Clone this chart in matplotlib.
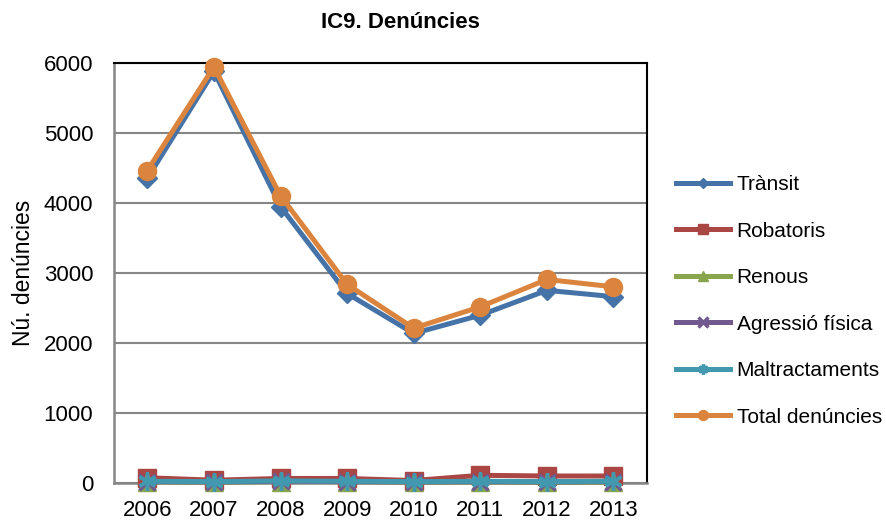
"""IC9. Denuncies line chart."""
import matplotlib
matplotlib.use('Agg')
from matplotlib import pyplot as plt
from matplotlib import rc

rc('font', family=['Liberation Sans', 'DejaVu Sans'])

years = ['2006', '2007', '2008', '2009', '2010', '2011', '2012', '2013']
transit = [4350, 5875, 3945, 2705, 2135, 2395, 2750, 2660]
robatoris = [75, 40, 65, 65, 35, 110, 100, 100]
renous = [15, 10, 20, 20, 10, 15, 10, 10]
agressio = [20, 15, 25, 20, 15, 20, 15, 20]
maltractaments = [25, 20, 30, 25, 20, 25, 20, 25]
total = [4460, 5940, 4100, 2835, 2210, 2515, 2905, 2800]

labels = ['Trànsit', 'Robatoris', 'Renous', 'Agressió física',
          'Maltractaments', 'Total denúncies']
colors = ['#4572A7', '#AA4643', '#89A54E', '#71588F', '#4198AF', '#DB843D']
markers = ['D', 's', '^', 'x', (6, 2, 0), 'o']
sizes = [10, 13, 13, 12, 13, 13]

fig = plt.figure(figsize=(8.86, 5.22), dpi=100)
ax = fig.add_axes([0.1287, 0.0747, 0.6013, 0.8053])

x = range(len(years))
series = [transit, robatoris, renous, agressio, maltractaments, total]
for vals, lab, col, mk, ms in zip(series, labels, colors, markers, sizes):
    ax.plot(x, vals, color=col, lw=3.6, marker=mk, ms=ms,
            mew=2.5 if mk in ('x', (6, 2, 0)) else 1, mec=col, mfc=col,
            label=lab, solid_joinstyle='round', clip_on=False, zorder=3)

ax.set_xlim(-0.5, 7.5)
ax.set_ylim(0, 6000)
ax.set_yticks(range(0, 6001, 1000))
ax.set_xticks(list(x))
ax.set_xticklabels(years)
ax.tick_params(labelsize=16, length=0)
ax.tick_params(axis='y', pad=15)
ax.tick_params(axis='x', pad=12)
ax.grid(axis='y', color='#868686', lw=1.5)
ax.set_axisbelow(True)
for s in ('left', 'bottom'):
    ax.spines[s].set_color('#868686')
    ax.spines[s].set_linewidth(1.8)
for s in ('top', 'right'):
    ax.spines[s].set_color('black')
    ax.spines[s].set_linewidth(1.5)

ax.set_ylabel('Nú. denúncies', fontsize=16.5, labelpad=6)

fig.text(0.452, 0.956, 'IC9. Denúncies', fontsize=16, fontweight='bold',
         ha='center', va='center')

ax.legend(loc='center left', bbox_to_anchor=(1.02, 0.433), frameon=False,
          fontsize=15, handlelength=2.6, handletextpad=0.3,
          labelspacing=1.32, markerscale=0.55)

fig.savefig('out.png', dpi=100)
